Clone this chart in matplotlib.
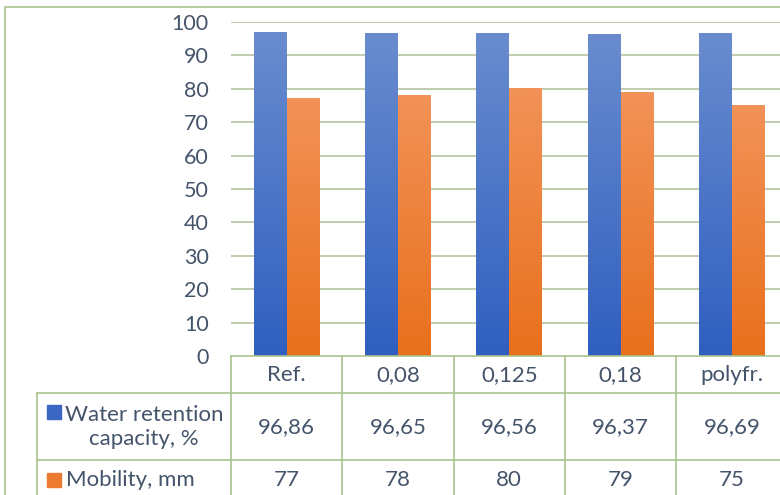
import matplotlib.pyplot as plt
import matplotlib.transforms as mtransforms
import numpy as np
from matplotlib.colors import LinearSegmentedColormap

categories = ["Ref.", "0,08", "0,125", "0,18", "polyfr."]
water_retention = [96.86, 96.65, 96.56, 96.37, 96.69]
mobility = [77, 78, 80, 79, 75]
water_labels = ["96,86", "96,65", "96,56", "96,37", "96,69"]
series_names = ["Water retention\ncapacity, %", "Mobility, mm"]

plt.rcParams["font.family"] = ["Lato", "DejaVu Sans"]
TEXT = "#44546a"
LINE = "#a9c48c"
GRID = "#aebf98"
FS = 16

W, H = 780, 495
fig = plt.figure(figsize=(W / 100, H / 100), dpi=100)

# plot area in pixels: left 231, top 22, bottom 356, one category = 111.3 px
cat_w = 111.3
ax = fig.add_axes([231 / W, 1 - 356 / H, 5 * cat_w / W, (356 - 22) / H])

x = np.arange(len(categories))
bw = 0.296
blue_cmap = LinearSegmentedColormap.from_list("b", ["#2f5fbf", "#6a8ccf"])
orange_cmap = LinearSegmentedColormap.from_list("o", ["#e8701c", "#f29258"])
grad = np.linspace(0, 1, 256).reshape(-1, 1)

for xs, vals, cmap in [(x - bw / 2, water_retention, blue_cmap),
                       (x + bw / 2, mobility, orange_cmap)]:
    bars = ax.bar(xs, vals, bw, color="none", zorder=2)
    for b in bars:
        x0, w, h = b.get_x(), b.get_width(), b.get_height()
        ax.imshow(grad, extent=[x0, x0 + w, 0, h], origin="lower",
                  cmap=cmap, aspect="auto", zorder=2)

ax.set_xlim(-0.5, 4.5)
ax.set_ylim(0, 100)
ax.set_yticks(range(0, 101, 10))
ax.set_xticks([])
ax.tick_params(axis="y", length=0, pad=16, labelsize=15.5, labelcolor=TEXT)
for s in ax.spines.values():
    s.set_visible(False)
for v in range(10, 101, 10):
    ax.axhline(v, color=GRID, lw=1.1, zorder=1)

# data table under the plot
tr = mtransforms.blended_transform_factory(ax.transData, ax.transAxes)
px = 1 / (356 - 22)
left = (37 - 231) / cat_w - 0.5
row1_top = -(393 - 356) * px
row2_top = -(460 - 356) * px
bottom = -(500 - 356) * px
right = 5.5

kw = dict(color=LINE, lw=1.2, transform=tr, clip_on=False)
ax.plot([-0.5, right], [0, 0], **kw)
ax.plot([left, right], [row1_top, row1_top], **kw)
ax.plot([left, right], [row2_top, row2_top], **kw)
ax.plot([left, left], [row1_top, bottom], **kw)
for b in np.arange(-0.5, 5.0, 1.0):
    ax.plot([b, b], [0, bottom], **kw)

hdr_y = -(375 - 356) * px
r1_y = -(427 - 356) * px
r2_y = -(480 - 356) * px
tkw = dict(transform=tr, ha="center", va="center", fontsize=FS,
           color=TEXT, clip_on=False)
for i, c in enumerate(categories):
    ax.text(i, hdr_y, c, **tkw)
    ax.text(i, r1_y, water_labels[i], **tkw)
    ax.text(i, r2_y, str(mobility[i]), **tkw)

# row headers with colour keys
lab_x = (144 - 231) / cat_w - 0.5
ax.text(lab_x, r1_y, series_names[0], transform=tr, ha="center", va="center",
        fontsize=FS, color=TEXT, linespacing=1.25, clip_on=False)
ax.text((66 - 231) / cat_w - 0.5, r2_y, series_names[1], transform=tr,
        ha="left", va="center", fontsize=FS, color=TEXT, clip_on=False)
fig.add_artist(plt.Rectangle((47 / W, 1 - 419 / H), 14 / W, 14 / H,
                             transform=fig.transFigure, color="#3c66c4"))
fig.add_artist(plt.Rectangle((47 / W, 1 - 487 / H), 14 / W, 14 / H,
                             transform=fig.transFigure, color="#ec7a30"))

# outer chart frame
fig.add_artist(plt.Rectangle((5.3 / W, -0.05), 1.1, 1 - 7.3 / H + 0.05,
                             transform=fig.transFigure, fill=False,
                             ec=LINE, lw=1.2))

fig.savefig("out.png", dpi=100)
